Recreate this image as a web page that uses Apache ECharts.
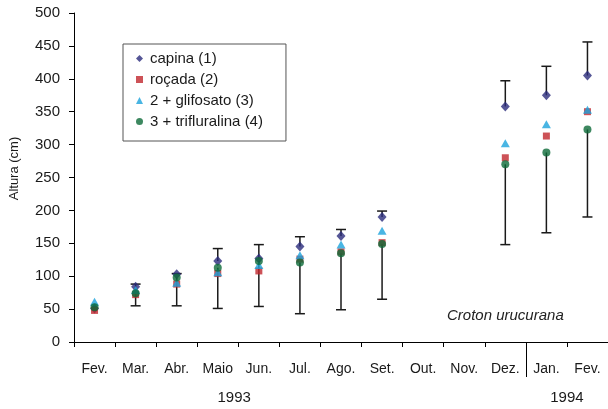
<!DOCTYPE html>
<html>
<head>
<meta charset="utf-8">
<script src="https://cdn.jsdelivr.net/npm/echarts@6/dist/echarts.min.js"></script>
<style>html,body{margin:0;padding:0;background:#fff}#c{width:608px;height:409px}</style>
</head>
<body>
<div id="c"></div>
<script>
var categories = ['Fev.','Mar.','Abr.','Maio','Jun.','Jul.','Ago.','Set.','Out.','Nov.','Dez.','Jan.','Fev.'];
var yearLabels = ['1993','1994'];
var yearPositions = [3.9, 12];
var yearSplit = [11];
var capina = [51, 84, 103, 123, 127, 145, 161, 190, null, null, 358, 375, 405];
var rocada = [48, 72, 88, 104, 108, 126, 137, 151, null, null, 280, 313, 350];
var glifosato = [61, 79, 90, 106, 117, 132, 148, 169, null, null, 302, 331, 353];
var trifluralina = [53, 74, 98, 113, 123, 121, 135, 149, null, null, 270, 288, 323];
var upperBound = [null, 88, 104, 142, 148, 160, 171, 199, null, null, 397, 419, 456];
var lowerBound = [null, 55, 55, 51, 54, 43, 49, 65, null, null, 148, 166, 190];
var seriesNames = ['capina (1)', 'roçada (2)', '2 + glifosato (3)', '3 + trifluralina (4)'];

var font = 'Liberation Sans, Arial, sans-serif';
var barData = [];
for (var i = 0; i < categories.length; i++) {
  if (upperBound[i] != null) barData.push([i, capina[i], upperBound[i]]);
  if (lowerBound[i] != null) barData.push([i, trifluralina[i], lowerBound[i]]);
}

function renderBar(params, api) {
  var x = api.value(0);
  var p1 = api.coord([x, api.value(1)]);
  var p2 = api.coord([x, api.value(2)]);
  var st = {stroke: '#1a1a1a', lineWidth: 1.5};
  return {
    type: 'group',
    children: [
      {type: 'line', shape: {x1: p1[0], y1: p1[1], x2: p2[0], y2: p2[1]}, style: st},
      {type: 'line', shape: {x1: p2[0] - 5, y1: p2[1], x2: p2[0] + 5, y2: p2[1]}, style: st}
    ]
  };
}

var chart = echarts.init(document.getElementById('c'));
chart.setOption({
  animation: false,
  textStyle: {fontFamily: font},
  title: {
    text: 'Croton urucurana', left: 442, top: 303,
    textStyle: {fontFamily: font, fontSize: 15, fontStyle: 'italic', fontWeight: 'normal', color: '#222'}
  },
  legend: {
    orient: 'vertical', left: 123, top: 44,
    padding: [6, 23, 11, 13],
    borderColor: '#555', borderWidth: 1, backgroundColor: '#fff',
    itemWidth: 7, itemHeight: 7, itemGap: 4,
    textStyle: {fontFamily: font, fontSize: 15, color: '#1a1a1a', lineHeight: 17, padding: [0, 0, 0, 2]},
    data: seriesNames
  },
  grid: {left: 74, right: -4, top: 13, bottom: 67},
  xAxis: [{
    type: 'category', data: categories, boundaryGap: true,
    axisLine: {lineStyle: {color: '#000', width: 1}},
    axisTick: {show: true, length: 5, lineStyle: {color: '#000'}},
    axisLabel: {color: '#1a1a1a', fontSize: 14, margin: 20, interval: 0, fontFamily: font},
    splitLine: {show: false}
  }, {
    type: 'value', min: 0, max: categories.length, position: 'bottom',
    axisLine: {show: false},
    axisTick: {show: true, length: 35, customValues: yearSplit, lineStyle: {color: '#000'}},
    axisLabel: {
      show: true, customValues: yearPositions, margin: 48, fontSize: 15, color: '#1a1a1a', fontFamily: font,
      formatter: function (v) { return v < yearSplit[0] ? yearLabels[0] : yearLabels[1]; }
    },
    splitLine: {show: false}
  }],
  yAxis: {
    type: 'value', min: 0, max: 500, interval: 50,
    name: 'Altura (cm)', nameLocation: 'middle', nameGap: 53,
    nameTextStyle: {fontSize: 13, color: '#1a1a1a', fontFamily: font, padding: [0, 0, 0, 18]},
    axisLine: {show: true, lineStyle: {color: '#000', width: 1}},
    axisTick: {show: true, length: 5, lineStyle: {color: '#000'}},
    axisLabel: {color: '#1a1a1a', fontSize: 15, margin: 14, fontFamily: font},
    splitLine: {show: false}
  },
  series: [
    {type: 'custom', renderItem: renderBar, data: barData, z: 1, silent: true, xAxisIndex: 0},
    {name: seriesNames[0], type: 'scatter', data: capina, symbol: 'diamond', symbolSize: [9, 10], itemStyle: {color: '#2B2C7C'}, z: 2},
    {name: seriesNames[1], type: 'scatter', data: rocada, symbol: 'rect', symbolSize: 7, itemStyle: {color: '#C1272D'}, z: 3},
    {name: seriesNames[2], type: 'scatter', data: glifosato, symbol: 'triangle', symbolSize: [9, 8], itemStyle: {color: '#1BA3DC'}, z: 4},
    {name: seriesNames[3], type: 'scatter', data: trifluralina, symbol: 'circle', symbolSize: 8, itemStyle: {color: '#0D6A38'}, z: 5}
  ]
});
</script>
</body>
</html>
